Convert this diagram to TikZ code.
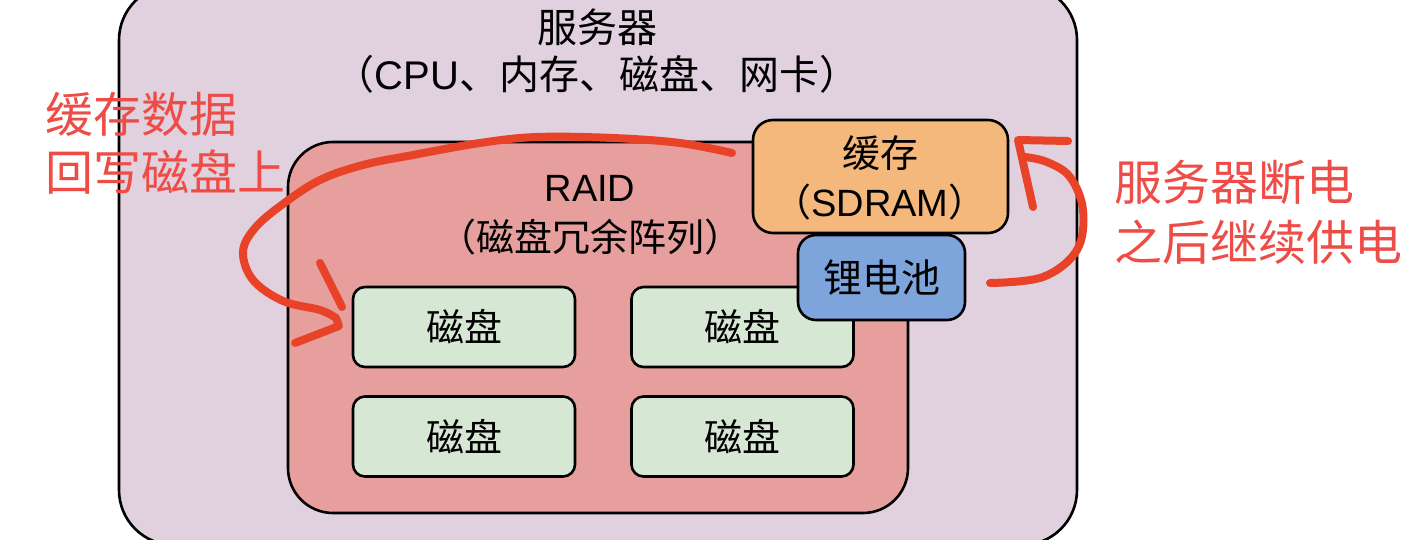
\documentclass[tikz,border=0pt]{standalone}
\usepackage{fontspec}
\setmainfont{Liberation Sans}
\newfontfamily\cjk{Noto Sans CJK SC}
\definecolor{serverfill}{RGB}{225,208,222}
\definecolor{raidfill}{RGB}{230,159,156}
\definecolor{diskfill}{RGB}{214,231,212}
\definecolor{cachefill}{RGB}{244,184,124}
\definecolor{battfill}{RGB}{126,164,220}
\definecolor{annotline}{RGB}{232,66,40}
\definecolor{annottext}{RGB}{238,76,70}
\tikzset{
  box/.style={draw=black, line width=2.6pt, inner sep=0pt, rectangle},
  disk/.style={box, fill=diskfill, rounded corners=12pt, minimum width=222pt, minimum height=80pt, font=\fontsize{38}{40}\selectfont\cjk},
  txt/.style={inner sep=0pt, text=black, font=\fontsize{40}{44}\selectfont},
  smalltxt/.style={inner sep=0pt, text=black, font=\fontsize{38}{42}\selectfont},
  redtxt/.style={inner sep=0pt, anchor=west, text=annottext, font=\fontsize{48}{52}\selectfont\cjk},
  redline/.style={draw=annotline, line width=8pt, line cap=round, line join=round}
}
\begin{document}
\begin{tikzpicture}[x=1pt,y=-1pt]
\useasboundingbox (0,0) rectangle (1418,540);
\clip (0,0) rectangle (1418,540);
% server
\node[box, fill=serverfill, rounded corners=55pt, minimum width=958pt, minimum height=560pt] (server) at (598,265) {};
\node[txt] (servertitle) at (597,27) {\cjk 服务器};
\node[txt] (serversub) at (597,74) {{\cjk （}CPU{\cjk 、内存、磁盘、网卡）}};
% raid
\node[box, fill=raidfill, rounded corners=45pt, minimum width=620pt, minimum height=371pt] (raid) at (598,327.5) {};
\node[smalltxt] (raidtitle) at (590,188) {RAID};
\node[smalltxt] (raidsub) at (590,237) {\cjk （磁盘冗余阵列）};
% disks
\node[disk] (d1) at (464,327) {磁盘};
\node[disk] (d2) at (742.5,327) {磁盘};
\node[disk] (d3) at (464,436.5) {磁盘};
\node[disk] (d4) at (742.5,436.5) {磁盘};
% cache and battery
\node[box, fill=cachefill, rounded corners=20pt, minimum width=255pt, minimum height=113pt] (cache) at (880.5,176.5) {};
\node[smalltxt] (cachetitle) at (880,153) {\cjk 缓存};
\node[smalltxt] (cachesub) at (880,202) {{\cjk （}SDRAM{\cjk ）}};
\node[box, fill=battfill, rounded corners=18pt, minimum width=167pt, minimum height=85pt, font=\fontsize{39}{42}\selectfont\cjk] (batt) at (881.5,277.5) {锂电池};
% annotations text
\node[redtxt] (lt1) at (45,114) {缓存数据};
\node[redtxt] (lt2) at (45,172) {回写磁盘上};
\node[redtxt] (rt1) at (1114,182) {服务器断电};
\node[redtxt] (rt2) at (1114,242) {之后继续供电};
% left hand-drawn arrow
\draw[redline] plot[smooth, tension=0.6] coordinates {(732,153) (680,143) (613,138) (537,137) (480,143) (413,155) (363,165) (320,180) (283,204) (255,228) (243,252) (253,280) (283,301) (320,310) (336,318)} -- (339,326) -- (295,343);
\draw[redline] (320,263) -- (342,307);
% right hand-drawn arrow
\draw[redline] plot[smooth, tension=0.6] coordinates {(990,283) (1043,277) (1077,250) (1083,210) (1070,177) (1047,162) (1025,157)};
\draw[redline] (1068,141) -- (1018,140) -- (1033,207);
\end{tikzpicture}
\end{document}
